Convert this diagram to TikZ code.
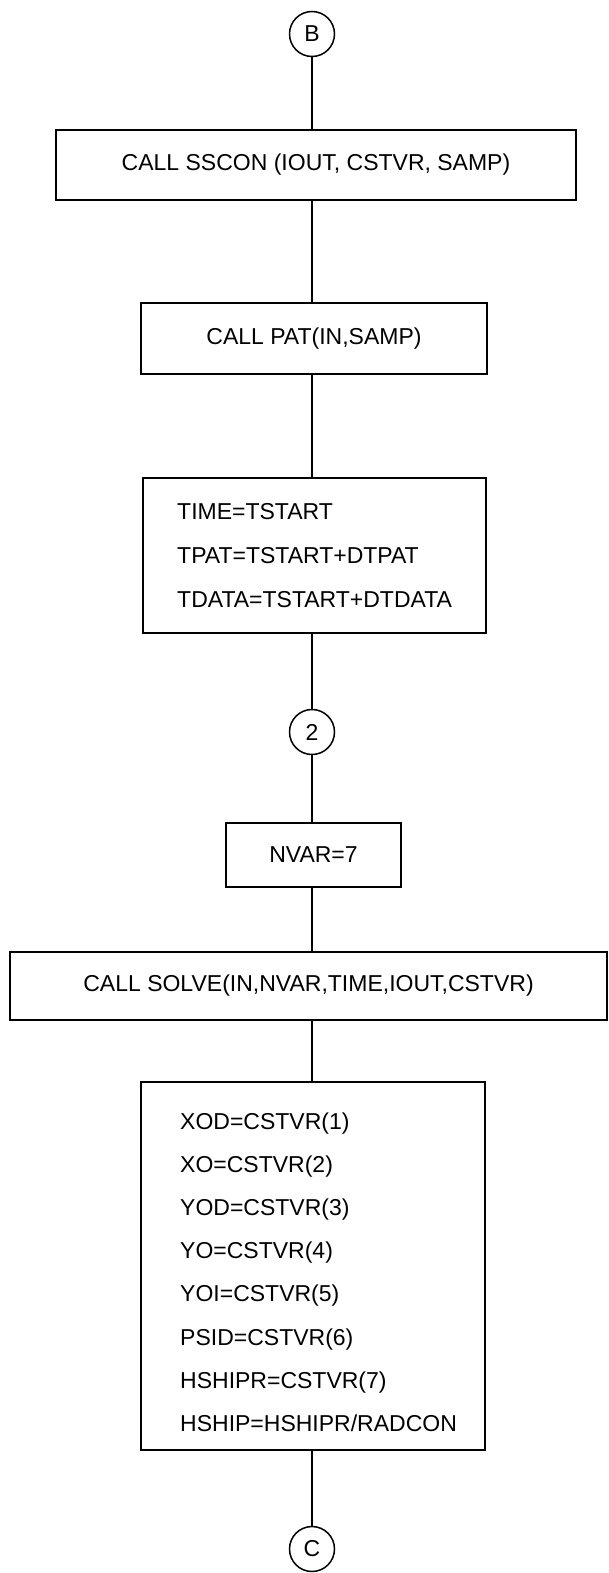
\documentclass[tikz,border=0pt]{standalone}
\usepackage{fontspec}
\setmainfont{Liberation Sans}
\begin{document}
\begin{tikzpicture}[
  x=1pt, y=-1pt,
  font=\fontsize{23}{28}\selectfont,
  box/.style={draw, line width=1.5pt, inner sep=0pt},
  conn/.style={draw, circle, line width=1.5pt, minimum size=45pt, inner sep=0pt},
  code/.style={anchor=base west, inner sep=0pt},
  flow/.style={line width=1.5pt},
]
\useasboundingbox (0,0) rectangle (609,1573);
\coordinate (col) at (312,0);

% entry connector
\node[conn] (B) at (312,34) {B};

% setup calls
\node[box, minimum width=520pt, minimum height=70pt] (sscon) at (316,165) {CALL SSCON (IOUT, CSTVR, SAMP)};
\node[box, minimum width=346pt, minimum height=71pt] (pat) at (314,338.5) {CALL PAT(IN,SAMP)};

% start times
\node[box, minimum width=343pt, minimum height=155pt] (tinit) at (314.5,555.5) {};
\foreach \t [count=\i from 0] in {TIME=TSTART, TPAT=TSTART+DTPAT, TDATA=TSTART+DTDATA} {
  \node[code] (t\i) at (177, {519+44*\i}) {\t};
}

% loop point
\node[conn] (two) at (312,732) {2};
\node[box, minimum width=175pt, minimum height=64pt] (nvar) at (313.5,855) {NVAR=7};
\node[box, minimum width=597pt, minimum height=68pt] (solve) at (308.5,986) {CALL SOLVE(IN,NVAR,TIME,IOUT,CSTVR)};

% state vector
\node[box, minimum width=344pt, minimum height=368pt] (vbox) at (313,1266) {};
\foreach \t [count=\i from 0] in {XOD=CSTVR(1), XO=CSTVR(2), YOD=CSTVR(3), YO=CSTVR(4),
    YOI=CSTVR(5), PSID=CSTVR(6), HSHIPR=CSTVR(7), HSHIP=HSHIPR/RADCON} {
  \node[code] (v\i) at (180, {1129+43.2*\i}) {\t};
}

% exit connector
\node[conn] (C) at (312,1549) {C};

% flow lines
\draw[flow] (B.south) -- (B.south |- sscon.north);
\draw[flow] (sscon.south -| col) -- (pat.north -| col);
\draw[flow] (pat.south -| col) -- (tinit.north -| col);
\draw[flow] (tinit.south -| col) -- (two.north);
\draw[flow] (two.south) -- (two.south |- nvar.north);
\draw[flow] (nvar.south -| col) -- (solve.north -| col);
\draw[flow] (solve.south -| col) -- (vbox.north -| col);
\draw[flow] (vbox.south -| col) -- (C.north);
\end{tikzpicture}
\end{document}
